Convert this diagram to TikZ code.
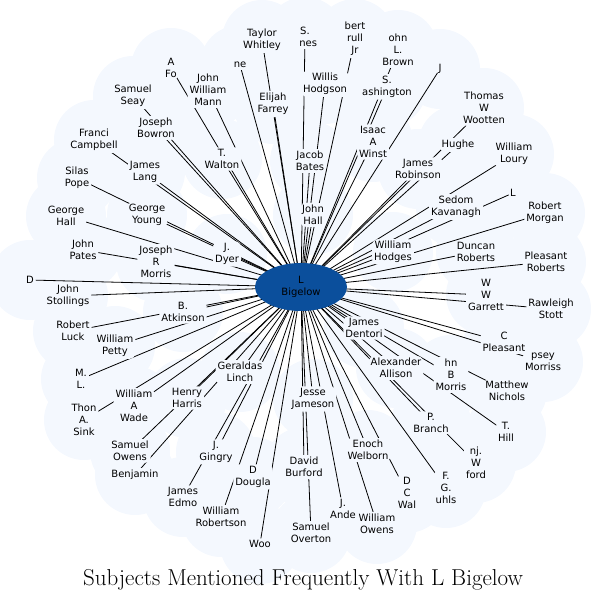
\documentclass[tikz,border=0pt]{standalone}
\usepackage{fontspec}
\setsansfont{DejaVu Sans}
\usetikzlibrary{shapes.geometric}
\definecolor{halo}{HTML}{F4F8FE}
\definecolor{hub}{HTML}{0B4F9C}
\tikzset{
  pname/.style={fill=halo, inner sep=2pt, rounded corners=6pt, align=center, font=\sffamily\fontsize{10}{12}\selectfont},
  spoke/.style={line width=0.8pt, black}
}
\begin{document}
\begin{tikzpicture}[x=1pt, y=-1pt]
\useasboundingbox (0,0) rectangle (608,601);
\def\people{tw/262/40/{Taylor\\Whitley}, sj/305/37/{S.\\\ \ nes}, rt/355/39/{bert\\rull\\Jr},
  jb/398/50/{ohn\\L.\\Brown}, jj/440/69/{J}, wh/325/84/{Willis\\Hodgson}, sw/387/87/{S.\\ashington},
  tww/484/108/{Thomas\\W\\Wootten}, iw/373/142/{Isaac\\A\\Winst}, hu/458/145/{Hughe},
  wl/514/154/{William\\Loury}, jr/418/169/{James\\Robinson}, jbt/310/161/{Jacob\\Bates},
  ll/513/193/{L}, sk/456/207/{Sedom\\Kavanagh}, rm/545/213/{Robert\\Morgan}, jh/313/215/{John\\Hall},
  whg/393/252/{William\\Hodges}, dr/476/252/{Duncan\\Roberts}, pr/546/262/{Pleasant\\Roberts},
  wg/486/295/{W\\W\\Garrett}, rs/551/309/{Rawleigh\\Stott}, cp/504/342/{C\\Pleasant},
  pm/543/362/{psey\\Morriss}, mn/507/391/{Matthew\\Nichols}, th/506/432/{T.\\Hill},
  pb/431/423/{P.\\Branch}, bw/476/463/{nj.\\W\\ford}, fg/446/488/{F.\\G.\\uhls},
  dw/407/493/{D\\C\\Wal}, ew/368/450/{Enoch\\Welborn}, jm/451/375/{hn\\B\\Morris},
  aa/396/368/{Alexander\\Allison}, jd/364/328/{James\\Dentori}, jja/313/399/{Jesse\\Jameson},
  db/304/467/{David\\Burford}, ja/343/509/{J.\\Ande}, wo/377/524/{William\\Owens},
  so/311/533/{Samuel\\Overton}, woo/260/544/{Woo}, wr/221/517/{William\\Robertson},
  je/183/497/{James\\Edmo}, dd/253/477/{D\\Dougla}, jg/216/452/{J.\\Gingry},
  bj/135/475/{Benjamin}, sow/130/451/{Samuel\\Owens}, gl/240/372/{Geraldas\\Linch},
  hh/187/398/{Henry\\Harris}, waw/134/406/{William\\A\\Wade}, ts/84/420/{Thon\\A.\\Sink},
  ml/81/379/{M.\\L.}, wp/115/346/{William\\Petty}, rl/73/331/{Robert\\Luck},
  ba/183/312/{B.\\Atkinson}, js/68/296/{John\\Stollings}, dx/30/280/{D}, jp/83/250/{John\\Pates},
  jrm/156/262/{Joseph\\R\\Morris}, jdy/227/254/{J.\\Dyer}, gh/66/216/{George\\Hall},
  gy/147/215/{George\\Young}, sp/77/178/{Silas\\Pope}, jl/145/172/{James\\Lang},
  fc/94/140/{Franci\\Campbell}, jbw/156/128/{Joseph\\Bowron}, tw2/222/159/{T.\\Walton},
  ss/133/96/{Samuel\\Seay}, jwm/208/90/{John\\William\\Mann}, ef/273/104/{Elijah\\Farrey},
  af/171/68/{A\\Fo}, ne/240/65/{ne}}
% halo cloud
\foreach \nm/\px/\py/\txt in \people
  \fill[halo] (\px,\py) circle (40);
% spokes
\foreach \nm/\px/\py/\txt in \people
  \draw[spoke] (301,287) -- (\px,\py);
% labels
\foreach \nm/\px/\py/\txt in \people
  \node[pname] (\nm) at (\px,\py) {\txt};
\node[ellipse, fill=hub, minimum width=92, minimum height=48, inner sep=0pt, align=center,
  font=\sffamily\fontsize{10}{12}\selectfont] (lb) at (301,287) {L\\Bigelow};
\node[font=\fontsize{23}{26}\selectfont] (title) at (303,580) {Subjects Mentioned Frequently With L Bigelow};
\end{tikzpicture}
\end{document}
